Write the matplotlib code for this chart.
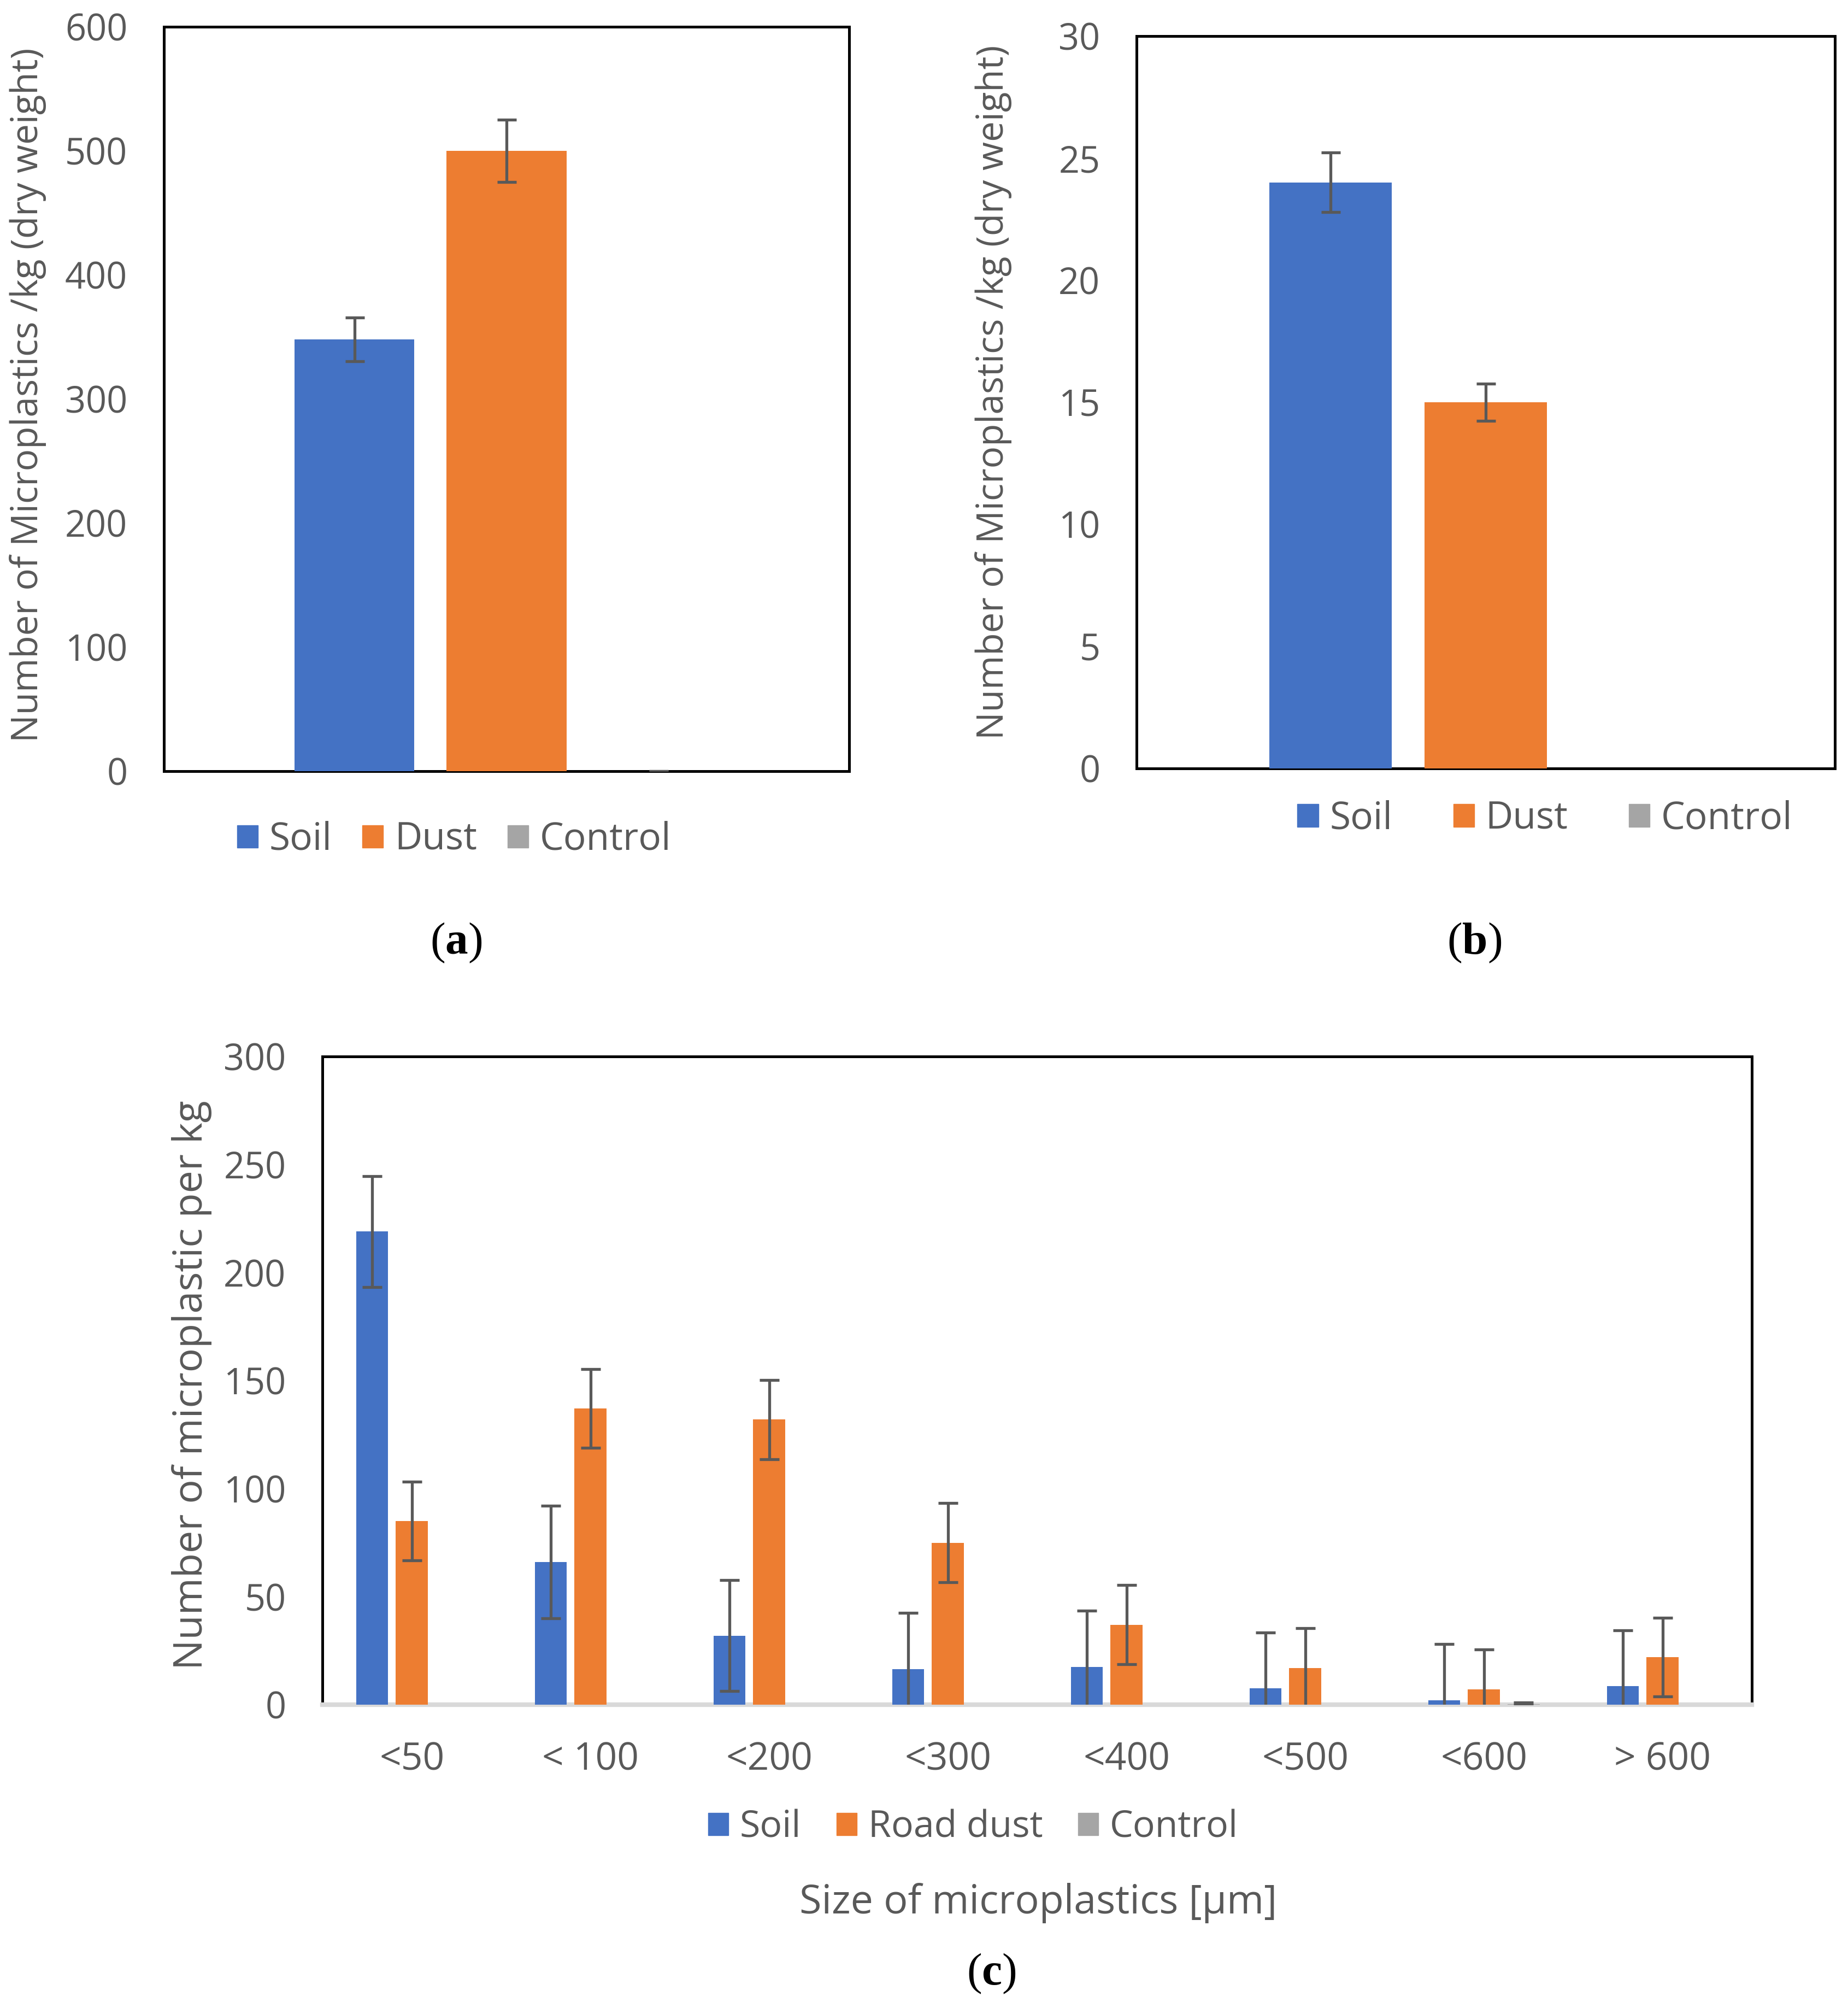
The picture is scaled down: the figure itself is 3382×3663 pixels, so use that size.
import numpy as np
import matplotlib
matplotlib.use("Agg")
from matplotlib import pyplot as plt
from matplotlib.patches import Patch

SOIL_COLOR = "#4472C4"
DUST_COLOR = "#ED7D31"
CONTROL_COLOR = "#A5A5A5"
ERR_COLOR = "#595959"
TEXT_COLOR = "#595959"
FONT = "Open Sans"
FS = 48

# panel (a): microplastics per kg, one sample group
series_a = ["Soil", "Dust", "Control"]
values_a = [348, 500, 0]
errors_a = [17.5, 25, 0]

# panel (b)
series_b = ["Soil", "Dust", "Control"]
values_b = [24, 15, 0]
errors_b = [1.22, 0.76, None]

# panel (c): size distribution
size_labels = ["<50", "< 100", "<200", "<300", "<400", "<500", "<600", "> 600"]
soil_c = [219, 66, 32, 16.5, 17.5, 7.5, 2, 8.5]
soil_err_c = [25.7, 26, 25.7, 26, 26, 26, 26, 26]
dust_c = [85, 137, 132, 75, 37, 17, 7, 22]
dust_err_c = [18.3, 18.2, 18.3, 18.3, 18.3, 18.5, 18.5, 18.3]
control_c = [0, 0, 0, 0, 0, 0, 0.3, 0]
control_err_c = [0, 0, 0, 0, 0, 0, 0.6, 0]

plt.rcParams["font.family"] = [FONT, "DejaVu Sans"]
plt.rcParams["mathtext.fontset"] = "custom"
plt.rcParams["mathtext.rm"] = "Liberation Serif"
plt.rcParams["mathtext.bf"] = "Liberation Serif:bold"

fig = plt.figure(figsize=(33.82, 36.63), dpi=100)


def style_axes(ax, bottom_color="black"):
    for name, spine in ax.spines.items():
        spine.set_linewidth(3.6)
        spine.set_color("black")
    ax.spines["bottom"].set_color(bottom_color)
    ax.tick_params(axis="both", length=0, labelsize=FS, labelcolor=TEXT_COLOR, pad=48)


def draw_errors(ax, xs, ys, errs, capsize=12.6):
    for x, y, e in zip(xs, ys, errs):
        if e is None:
            continue
        ax.errorbar(x, y, yerr=e, fmt="none", ecolor=ERR_COLOR, elinewidth=3.8,
                    capsize=capsize, capthick=3.8, zorder=4)


def single_group(rect, values, errors, ymax, step):
    ax = fig.add_axes(rect)
    offsets = [-0.222, 0.0, 0.222]
    colors = [SOIL_COLOR, DUST_COLOR, CONTROL_COLOR]
    ax.bar(offsets, values, width=0.175, color=colors, zorder=3)
    draw_errors(ax, offsets, values, errors)
    ax.set_xlim(-0.5, 0.5)
    ax.set_ylim(0, ymax)
    ax.set_yticks(np.arange(0, ymax + 1, step))
    ax.set_xticks([])
    style_axes(ax)
    return ax


ax_a = single_group([0.0887, 0.6148, 0.3708, 0.3718], values_a, errors_a, 600, 100)
ax_b = single_group([0.615, 0.6162, 0.3779, 0.3658], values_b, errors_b, 30, 5)

ylabel_ab = "Number of Microplastics /kg (dry weight)"
fig.text(0.0151, 0.8026, ylabel_ab, rotation=90, ha="center", va="center",
         fontsize=FS + 0.5, color=TEXT_COLOR)
fig.text(0.5376, 0.804, ylabel_ab, rotation=90, ha="center", va="center",
         fontsize=FS + 0.5, color=TEXT_COLOR)

handles_ab = [Patch(color=c) for c in [SOIL_COLOR, DUST_COLOR, CONTROL_COLOR]]
fig.legend(handles_ab, series_a, loc="center", bbox_to_anchor=(0.2457, 0.5804), ncol=3,
           frameon=False, fontsize=FS + 2, labelcolor=TEXT_COLOR, handlelength=0.55,
           handleheight=0.55, handletextpad=0.3, columnspacing=0.8)
fig.legend(handles_ab, series_b, loc="center", bbox_to_anchor=(0.836, 0.591), ncol=3,
           frameon=False, fontsize=FS + 2, labelcolor=TEXT_COLOR, handlelength=0.55,
           handleheight=0.55, handletextpad=0.3, columnspacing=1.6)

# panel (c)
ax_c = fig.add_axes([0.1745, 0.1485, 0.7735, 0.3238])
x = np.arange(len(size_labels))
w = 0.18
ax_c.bar(x - 0.222, soil_c, width=w, color=SOIL_COLOR, zorder=3)
ax_c.bar(x, dust_c, width=w, color=DUST_COLOR, zorder=3)
ax_c.bar(x + 0.222, control_c, width=w, color=CONTROL_COLOR, zorder=3)
draw_errors(ax_c, x - 0.222, soil_c, soil_err_c, capsize=13)
draw_errors(ax_c, x, dust_c, dust_err_c, capsize=13)
draw_errors(ax_c, x + 0.222, control_c,
            [e if e > 0 else None for e in control_err_c], capsize=13)
ax_c.set_xlim(-0.5, len(size_labels) - 0.5)
ax_c.set_ylim(0, 300)
ax_c.set_yticks(np.arange(0, 301, 50))
ax_c.set_xticks(x)
ax_c.set_xticklabels(size_labels)
style_axes(ax_c, bottom_color="#D9D9D9")
ax_c.spines["bottom"].set_linewidth(6)
ax_c.tick_params(axis="x", labelsize=FS + 2)

fig.text(0.1038, 0.3082, "Number of microplastic per kg", rotation=90, ha="center",
         va="center", fontsize=FS + 5, color=TEXT_COLOR)
fig.text(0.5618, 0.0494, "Size of microplastics [\u00b5m]", ha="center", va="center",
         fontsize=FS + 5, color=TEXT_COLOR)

handles_c = [Patch(color=c) for c in [SOIL_COLOR, DUST_COLOR, CONTROL_COLOR]]
fig.legend(handles_c, ["Soil", "Road dust", "Control"], loc="center",
           bbox_to_anchor=(0.5266, 0.0871), ncol=3, frameon=False, fontsize=FS + 1,
           labelcolor=TEXT_COLOR, handlelength=0.55, handleheight=0.55,
           handletextpad=0.3, columnspacing=0.95)

# panel letters
for label, px, py in [("a", 0.2469, 0.529), ("b", 0.7978, 0.529), ("c", 0.5364, 0.0142)]:
    fig.text(px, py, "(" + r"$\mathbf{" + label + "}$" + ")", ha="center", va="center",
             fontsize=60, family="Liberation Serif", color="black")

fig.savefig("out.png", dpi=100, facecolor="white")
